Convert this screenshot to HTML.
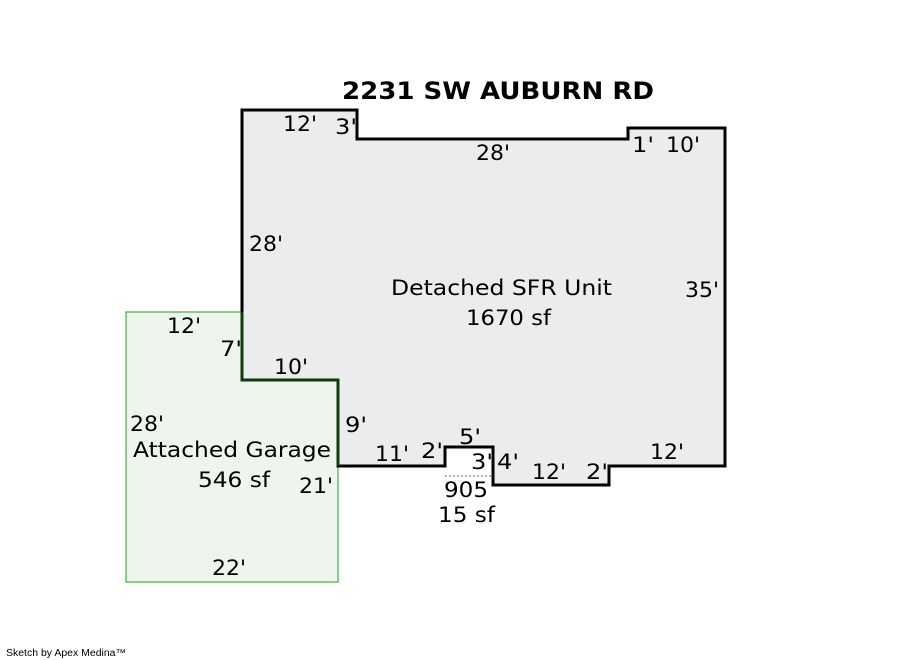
<!DOCTYPE html>
<html><head><meta charset="utf-8"><style>
html,body{margin:0;padding:0;background:#fff;}
svg{display:block}
text{font-family:"DejaVu Sans","Liberation Sans",sans-serif;font-size:21px;fill:#000}
</style></head><body>
<svg width="900" height="660" viewBox="0 0 900 660">
<rect x="126" y="312" width="212" height="270" fill="#eef5ec" stroke="#66bb66" stroke-width="1.5"/>
<polygon points="242,110 357,110 357,139 628,139 628,128 725,128 725,466 609,466 609,485 493,485 493,447 445,447 445,466 338,466 338,380 242,380" fill="#ececec" stroke="#000" stroke-width="3" stroke-linejoin="miter"/>
<polyline points="242,312 242,380 338,380 338,466" fill="none" stroke="#0b3d0b" stroke-width="3"/>
<line x1="445" y1="476" x2="493" y2="476" stroke="#666" stroke-width="1" stroke-dasharray="2,2"/>
<g lengthAdjust="spacingAndGlyphs">
<text x="342" y="99" lengthAdjust="spacingAndGlyphs" style="font-weight:bold;font-size:24px" textLength="312">2231 SW AUBURN RD</text>
<text x="283" y="131" lengthAdjust="spacingAndGlyphs" textLength="34">12'</text>
<text x="335" y="134" lengthAdjust="spacingAndGlyphs" textLength="22">3'</text>
<text x="476" y="160" lengthAdjust="spacingAndGlyphs" textLength="34">28'</text>
<text x="632" y="152" lengthAdjust="spacingAndGlyphs" textLength="22">1'</text>
<text x="666" y="152" lengthAdjust="spacingAndGlyphs" textLength="34">10'</text>
<text x="249" y="251" lengthAdjust="spacingAndGlyphs" textLength="34">28'</text>
<text x="391" y="295" lengthAdjust="spacingAndGlyphs" textLength="221">Detached SFR Unit</text>
<text x="466" y="325" lengthAdjust="spacingAndGlyphs" textLength="85">1670 sf</text>
<text x="685" y="297" lengthAdjust="spacingAndGlyphs" textLength="34">35'</text>
<text x="167" y="333" lengthAdjust="spacingAndGlyphs" textLength="34">12'</text>
<text x="220" y="356" lengthAdjust="spacingAndGlyphs" textLength="22">7'</text>
<text x="274" y="374" lengthAdjust="spacingAndGlyphs" textLength="34">10'</text>
<text x="345" y="432" lengthAdjust="spacingAndGlyphs" textLength="22">9'</text>
<text x="130" y="431" lengthAdjust="spacingAndGlyphs" textLength="34">28'</text>
<text x="133" y="457" lengthAdjust="spacingAndGlyphs" textLength="198">Attached Garage</text>
<text x="198" y="487" lengthAdjust="spacingAndGlyphs" textLength="72">546 sf</text>
<text x="299" y="493" lengthAdjust="spacingAndGlyphs" textLength="34">21'</text>
<text x="212" y="575" lengthAdjust="spacingAndGlyphs" textLength="34">22'</text>
<text x="375" y="461" lengthAdjust="spacingAndGlyphs" textLength="34">11'</text>
<text x="421" y="458" lengthAdjust="spacingAndGlyphs" textLength="22">2'</text>
<text x="459" y="444" lengthAdjust="spacingAndGlyphs" textLength="22">5'</text>
<text x="471" y="469" lengthAdjust="spacingAndGlyphs" textLength="22">3'</text>
<text x="497" y="469" lengthAdjust="spacingAndGlyphs" textLength="22">4'</text>
<text x="532" y="479" lengthAdjust="spacingAndGlyphs" textLength="34">12'</text>
<text x="586" y="479" lengthAdjust="spacingAndGlyphs" textLength="22">2'</text>
<text x="650" y="459" lengthAdjust="spacingAndGlyphs" textLength="34">12'</text>
<text x="444" y="497" lengthAdjust="spacingAndGlyphs" textLength="44">905</text>
<text x="438" y="522" lengthAdjust="spacingAndGlyphs" textLength="57">15 sf</text>
<text x="6" y="656" lengthAdjust="spacingAndGlyphs" style="font-family:'Liberation Sans',sans-serif;font-size:10px" textLength="120">Sketch by Apex Medina™</text>
</g>
</svg>
</body></html>
